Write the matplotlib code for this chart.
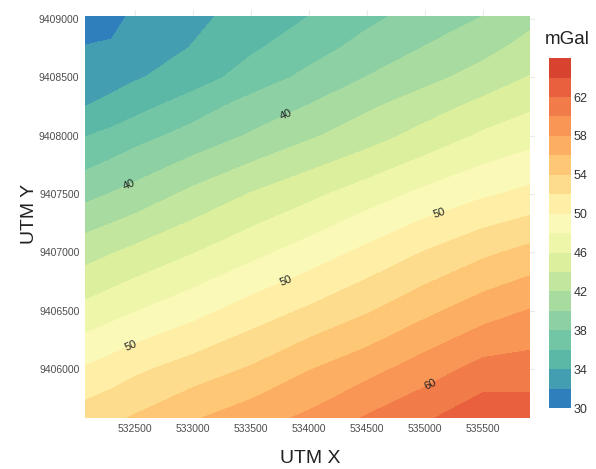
import numpy as np
import matplotlib
matplotlib.use("Agg")
import matplotlib.pyplot as plt

# Bouguer anomaly sampled on a UTM grid (mGal), rows from south to north
utm_x = [532070, 532300, 532500, 533000, 533500, 534000, 534500, 535000, 535500, 535905]
utm_y = [9405580, 9406000, 9406500, 9407000, 9407500, 9408000, 9408250, 9408500, 9408750, 9409025]
gravity_rows = [
    [53.0, 53.6, 54.2, 55.8, 57.1, 58.4, 60.2, 61.7, 63.4, 63.2],
    [50.2, 50.9, 51.6, 52.9, 54.2, 55.9, 57.3, 59.0, 60.7, 60.9],
    [46.6, 47.3, 47.9, 49.3, 50.9, 52.3, 53.8, 55.5, 57.1, 58.1],
    [43.2, 43.9, 44.5, 45.9, 47.4, 48.9, 50.5, 52.1, 53.6, 54.6],
    [39.4, 40.1, 40.7, 42.5, 44.1, 45.5, 47.0, 48.5, 49.7, 50.5],
    [35.9, 36.6, 37.3, 38.7, 40.2, 41.7, 43.1, 44.7, 46.3, 47.2],
    [34.0, 34.5, 35.3, 37.1, 38.8, 40.1, 41.7, 43.1, 44.6, 45.7],
    [33.1, 33.4, 33.8, 35.0, 36.9, 38.5, 40.05, 41.4, 42.8, 44.1],
    [32.1, 32.2, 32.9, 34.1, 35.7, 37.2, 38.7, 40.1, 41.4, 42.7],
    [31.0, 31.5, 32.3, 33.5, 34.8, 36.0, 37.5, 38.8, 40.0, 41.4],
]
fill_levels = [30, 32, 34, 36, 38, 40, 42, 44, 46, 48, 50, 52, 54, 56, 58, 60, 62, 64, 65]
label_levels = [40, 50, 60]
cbar_ticks = [30, 34, 38, 42, 46, 50, 54, 58, 62]
x_ticks = [532500, 533000, 533500, 534000, 534500, 535000, 535500]
y_ticks = [9406000, 9406500, 9407000, 9407500, 9408000, 9408500, 9409000]
label_spots = [
    (532458, 9407560), (533811, 9408160),
    (532484, 9406171), (533811, 9406746), (535113, 9407363),
    (535010, 9405940),
]

# one colour per 2 mGal band, blue (low) to red (high)
band_colors = [
    "#2E7FBC", "#449EB1", "#5BB8A7", "#72C5A5", "#8CD0A4", "#A7DBA0",
    "#C2E69D", "#DBEF9D", "#EEF6AA", "#FAF9B8", "#FEEEA6", "#FDDD8D",
    "#FDC776", "#FCAF63", "#F99656", "#F27B4A", "#E8603D", "#D7432E",
]

plt.rcParams["font.family"] = ["Liberation Sans", "DejaVu Sans"]

X, Y = np.meshgrid(utm_x, utm_y)
Z = np.array(gravity_rows)

fig = plt.figure(figsize=(5.96, 4.69), dpi=100)
ax = fig.add_axes([0.1426, 0.1087, 0.7551, 0.87])

ax.set_axisbelow(True)
ax.grid(color="#EBEBEB", linewidth=0.8)
cf = ax.contourf(X, Y, Z, levels=fill_levels, colors=band_colors, zorder=2)
cs = ax.contour(X, Y, Z, levels=label_levels, colors="none", linewidths=0, zorder=3)
ax.clabel(cs, fmt="%d", fontsize=8, colors="#222222", manual=label_spots, inline=False)

ax.set_xlim(532070, 535949)
ax.set_ylim(9405580, 9409077)
ax.set_xticks(x_ticks)
ax.set_yticks(y_ticks)
ax.ticklabel_format(useOffset=False, style="plain")
ax.tick_params(length=0, labelsize=7.5, labelcolor="#4D4D4D", pad=4)
for spine in ax.spines.values():
    spine.set_visible(False)
ax.set_xlabel("UTM X", fontsize=14, color="#222222", labelpad=12)
ax.set_ylabel("UTM Y", fontsize=14, color="#222222", labelpad=1)

cax = fig.add_axes([0.921, 0.130, 0.037, 0.746])
cb = fig.colorbar(cf, cax=cax, ticks=cbar_ticks)
cb.outline.set_visible(False)
cax.tick_params(length=0, labelsize=9, labelcolor="#333333", pad=2)
cax.set_title("mGal", fontsize=13.5, color="#222222", loc="left", pad=10, x=-0.2)

fig.savefig("out.png", dpi=100)
